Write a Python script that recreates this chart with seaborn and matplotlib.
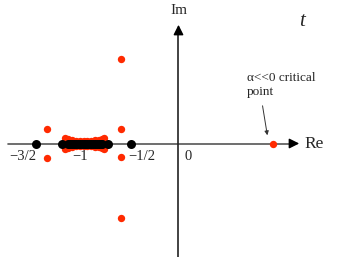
import matplotlib
matplotlib.use("Agg")
import matplotlib.pyplot as plt
import seaborn as sns
import pandas as pd

# Black points (real axis)
black_x = [-1.5, -1.226, -1.16, -1.14, -1.12, -1.10, -1.08, -1.06, -1.04, -1.02, -1.00,
           -0.98, -0.96, -0.94, -0.92, -0.90, -0.88, -0.86, -0.84, -0.82, -0.805, -0.742, -0.5]
black_y = [0.0] * len(black_x)

# Red points
red_x = [-1.38, -1.38, -0.6, -0.6, -0.6, -0.6, 1.0,
         -1.19, -1.19, -1.16, -1.16, -1.12, -1.12, -1.08, -1.08, -1.04, -1.04, -1.0, -1.0,
         -0.96, -0.96, -0.92, -0.92, -0.88, -0.88, -0.84, -0.84, -0.80, -0.80, -0.78, -0.78]
red_y = [0.15, -0.15, 0.15, -0.145, 0.886, -0.787, 0.0,
         0.06, -0.06, 0.045, -0.045, 0.035, -0.035, 0.03, -0.03, 0.028, -0.028, 0.027, -0.027,
         0.028, -0.028, 0.03, -0.03, 0.034, -0.034, 0.04, -0.04, 0.05, -0.05, 0.06, -0.06]

tick_labels = ["\u22123/2", "\u22121", "\u22121/2", "0"]
tick_pos = [(-1.637, -0.142), (-1.037, -0.142), (-0.384, -0.142), (0.1, -0.142)]

sns.set_theme(style="white")
plt.rcParams['font.family'] = ['Liberation Serif', 'DejaVu Serif']

fig = plt.figure(figsize=(3.53, 2.57), dpi=100)
ax = fig.add_axes([0, 0, 1, 1])

axis_col = '#555555'
# Real axis
ax.plot([-1.795, 1.20], [0, 0], color=axis_col, lw=1.2, zorder=1)
ax.annotate('', xy=(1.30, 0), xytext=(1.15, 0),
            arrowprops=dict(arrowstyle='-|>', color='black', lw=1.0, mutation_scale=15), zorder=1)
# Imag axis
ax.plot([0, 0], [-1.2, 1.18], color='#222222', lw=1.2, zorder=1)
ax.annotate('', xy=(0, 1.279), xytext=(0, 1.12),
            arrowprops=dict(arrowstyle='-|>', color='black', lw=1.0, mutation_scale=15), zorder=1)

red_df = pd.DataFrame({'x': red_x, 'y': red_y})
black_df = pd.DataFrame({'x': black_x, 'y': black_y})
sns.scatterplot(data=red_df, x='x', y='y', color='#ff2a00', s=28, linewidth=0, ax=ax, zorder=3)
sns.scatterplot(data=black_df, x='x', y='y', color='black', s=42, linewidth=0, ax=ax, zorder=4)
ax.set_xlim(-1.879, 1.837)
ax.set_ylim(-1.195, 1.511)
ax.axis('off')

for lab, (px, py) in zip(tick_labels, tick_pos):
    ax.text(px, py, lab, ha='center', va='center', fontsize=10.5)

ax.text(1.33, 0.0, "Re", ha='left', va='center', fontsize=12.5)
ax.text(0.005, 1.405, "Im", ha='center', va='center', fontsize=11)
ax.text(1.30, 1.28, "t", ha='center', va='center', fontsize=15, style='italic')

ax.text(0.72, 0.69, "\u03b1<<0 critical", ha='left', va='center', fontsize=9.5)
ax.text(0.72, 0.54, "point", ha='left', va='center', fontsize=9.5)
ax.annotate('', xy=(0.94, 0.058), xytext=(0.88, 0.426),
            arrowprops=dict(arrowstyle='-|>', color='#333333', lw=0.7, mutation_scale=6))

fig.savefig("out.png", dpi=100)
